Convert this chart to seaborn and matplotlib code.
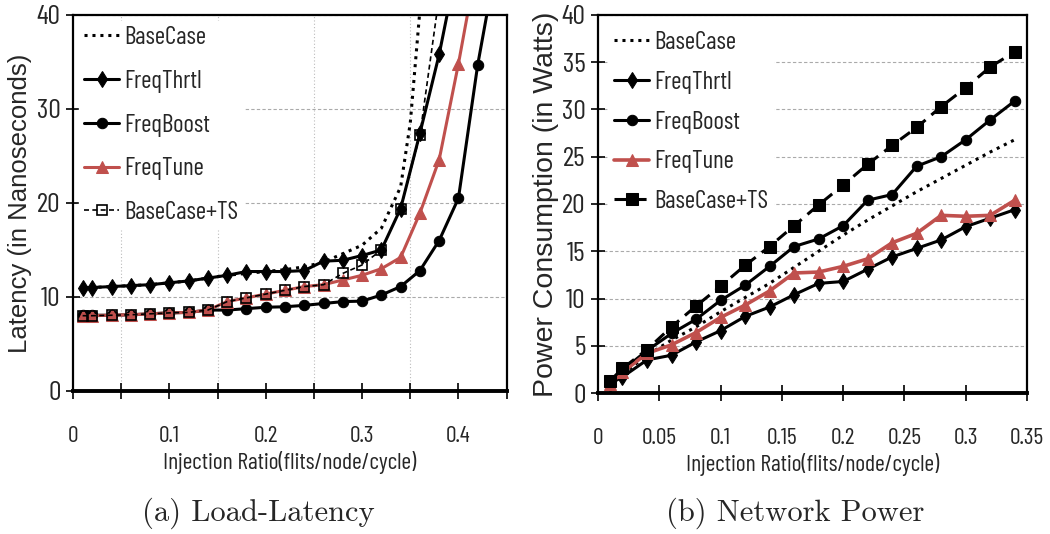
import numpy as np
import matplotlib
matplotlib.use("Agg")
import matplotlib.pyplot as plt
import seaborn as sns
from matplotlib import font_manager

# ---- data: (a) load-latency ----
lat_x = [0.01, 0.02, 0.04, 0.06, 0.08, 0.10, 0.12, 0.14, 0.16, 0.18, 0.20,
         0.22, 0.24, 0.26, 0.28, 0.30, 0.32, 0.34, 0.36, 0.38, 0.40, 0.42, 0.44]
lat_base_x = [0.01, 0.02, 0.04, 0.06, 0.08, 0.10, 0.12, 0.14, 0.16, 0.18, 0.20,
              0.22, 0.24, 0.26, 0.28, 0.30, 0.32, 0.34, 0.35, 0.36]
lat_base = [11.0, 11.0, 11.1, 11.2, 11.3, 11.5, 11.7, 12.0, 12.3, 12.5, 12.7,
            12.9, 13.2, 13.7, 14.6, 15.5, 17.3, 21.7, 28.5, 40.5]
lat_thrtl = [11.0, 11.0, 11.1, 11.2, 11.3, 11.5, 11.7, 12.0, 12.3, 12.7, 12.7,
             12.7, 12.8, 13.8, 13.9, 14.4, 15.0, 19.4, 27.4, 35.8, 46.0]
lat_boost = [8.05, 8.05, 8.05, 8.1, 8.2, 8.3, 8.35, 8.6, 8.6, 8.75, 8.9,
             8.95, 9.1, 9.3, 9.5, 9.55, 10.2, 11.1, 12.8, 16.0, 20.5, 34.7, 46.0]
lat_tune = [8.0, 8.0, 8.05, 8.1, 8.2, 8.3, 8.35, 8.6, 9.5, 9.9, 10.3,
            10.7, 11.1, 11.3, 11.8, 12.3, 13.0, 14.2, 18.9, 24.6, 34.8, 46.0]
lat_ts = [8.0, 8.0, 8.05, 8.1, 8.2, 8.3, 8.35, 8.6, 9.5, 9.9, 10.3,
          10.7, 11.1, 11.3, 12.5, 13.4, 15.0, 19.4, 27.2, 42.0]

# ---- data: (b) network power ----
pow_x = [0.01, 0.02, 0.04, 0.06, 0.08, 0.10, 0.12, 0.14, 0.16, 0.18,
         0.20, 0.22, 0.24, 0.26, 0.28, 0.30, 0.32, 0.34]
pow_base = [1.0, 2.0, 4.0, 5.6, 7.0, 8.6, 10.1, 11.6, 13.3, 15.0,
            16.7, 18.3, 19.8, 21.3, 22.7, 24.1, 25.5, 26.8]
pow_thrtl = [1.0, 1.7, 3.5, 4.0, 5.4, 6.6, 8.1, 9.1, 10.4, 11.6,
             11.8, 13.1, 14.4, 15.3, 16.2, 17.6, 18.5, 19.4]
pow_boost = [1.0, 2.4, 4.5, 6.3, 7.8, 9.8, 11.4, 13.4, 15.5, 16.3,
             17.7, 20.4, 21.0, 24.0, 25.0, 26.8, 28.9, 30.9]
pow_tune = [1.0, 2.2, 4.2, 5.1, 6.4, 8.0, 9.3, 10.8, 12.7, 12.8,
            13.4, 14.2, 15.9, 16.9, 18.8, 18.7, 18.8, 20.4]
pow_ts = [1.3, 2.6, 4.6, 7.0, 9.2, 11.3, 13.5, 15.5, 17.7, 19.9,
          22.0, 24.2, 26.2, 28.1, 30.3, 32.3, 34.5, 36.1]

labels = ["BaseCase", "FreqThrtl", "FreqBoost", "FreqTune", "BaseCase+TS"]
red = "#C0504D"

sns.set_theme(style="white")
names = {f.name for f in font_manager.fontManager.ttflist}
narrow = "Liberation Sans"
for cand in ["Barlow Condensed", "Roboto Condensed", "Archivo Narrow"]:
    if cand in names:
        narrow = cand
        break
plt.rcParams["font.family"] = [narrow, "DejaVu Sans"]

fig = plt.figure(figsize=(10.5, 5.34), dpi=100)
ax1 = fig.add_axes([0.0695, 0.268, 0.413, 0.704])
ax2 = fig.add_axes([0.5695, 0.264, 0.4086, 0.708])


def draw(ax, x, y, **kw):
    n = min(len(x), len(y))
    sns.lineplot(x=x[:n], y=y[:n], ax=ax, sort=False, estimator=None, **kw)


# (a)
draw(ax1, lat_base_x, lat_base, color="black", linestyle=(0, (1, 1.6)), lw=2.2, label=labels[0])
draw(ax1, lat_x, lat_thrtl, color="black", lw=2.2, marker="d", ms=8.5, mec="black", label=labels[1])
draw(ax1, lat_x, lat_boost, color="black", lw=2.2, marker="o", ms=7.5, mec="black", label=labels[2])
draw(ax1, lat_x, lat_tune, color=red, lw=2.2, marker="^", ms=8, mec=red, label=labels[3])
draw(ax1, lat_x, lat_ts, color="black", lw=1.2, linestyle=(0, (3, 2)), marker="s", ms=7,
     mfc="none", mec="black", mew=1.2, label=labels[4])

# (b)
draw(ax2, pow_x, pow_base, color="black", linestyle=(0, (1, 1.6)), lw=2.2, label=labels[0])
draw(ax2, pow_x, pow_thrtl, color="black", lw=2.2, marker="d", ms=8.5, mec="black", label=labels[1])
draw(ax2, pow_x, pow_boost, color="black", lw=2.2, marker="o", ms=7.5, mec="black", label=labels[2])
draw(ax2, pow_x, pow_tune, color=red, lw=2.6, marker="^", ms=8, mec=red, label=labels[3])
draw(ax2, pow_x, pow_ts, color="black", lw=2.2, linestyle=(0, (4, 2.5)), marker="s", ms=8,
     mec="black", label=labels[4])

for ax, xmax, major, minor, yticks, lspace, bpad in [
    (ax1, 0.45, np.arange(0, 0.41, 0.1), np.arange(0, 0.451, 0.05), np.arange(0, 41, 10), 0.83, 0.25),
    (ax2, 0.35, np.arange(0, 0.351, 0.05), np.arange(0, 0.351, 0.05), np.arange(0, 41, 5), 0.67, 0.45),
]:
    ax.set_xlim(0, xmax)
    ax.set_ylim(0, 40)
    ax.set_xticks(major)
    ax.set_xticks(minor, minor=True)
    ax.set_xticklabels([("%g" % t) for t in major])
    ax.set_yticks(yticks)
    ax.tick_params(axis="x", which="both", direction="inout", length=12, width=1.2,
                   pad=19, labelsize=17, bottom=True, color="black")
    ax.tick_params(axis="y", direction="inout", length=10, width=1.2, pad=4,
                   labelsize=20, left=True, color="black")
    for s in ax.spines.values():
        s.set_color("black")
        s.set_linewidth(1.6)
    ax.spines["bottom"].set_linewidth(2.8)
    ax.yaxis.grid(True, color="#aaaaaa", linestyle=(0, (3, 2)), lw=0.8)
    ax.xaxis.grid(True, which="minor", color="#bbbbbb", linestyle=(0, (1, 2)), lw=0.8)
    ax.xaxis.grid(False, which="major")
    ax.set_axisbelow(True)
    ax.set_xlabel("Injection Ratio(flits/node/cycle)", fontsize=17, labelpad=3)
    leg = ax.legend(loc="upper left", frameon=True, fontsize=18, handlelength=1.4,
                    handletextpad=0.2, labelspacing=lspace, borderaxespad=bpad,
                    borderpad=0.2, fancybox=False)
    leg.get_frame().set_edgecolor("white")
    leg.get_frame().set_facecolor("white")
    leg.get_frame().set_alpha(1)
    leg.set_zorder(1)

ax1.set_ylabel("Latency (in Nanoseconds)", fontsize=18.5, labelpad=3, family=["Liberation Sans", "DejaVu Sans"])
ax2.set_ylabel("Power Consumption (in Watts)", fontsize=20.5, labelpad=2, family=["Liberation Sans", "DejaVu Sans"])

fig.text(0.246, 0.024, "(a) Load-Latency", fontsize=22, family="cmr10", ha="center")
fig.text(0.757, 0.024, "(b) Network Power", fontsize=22, family="cmr10", ha="center")

fig.savefig("out.png", dpi=100)
